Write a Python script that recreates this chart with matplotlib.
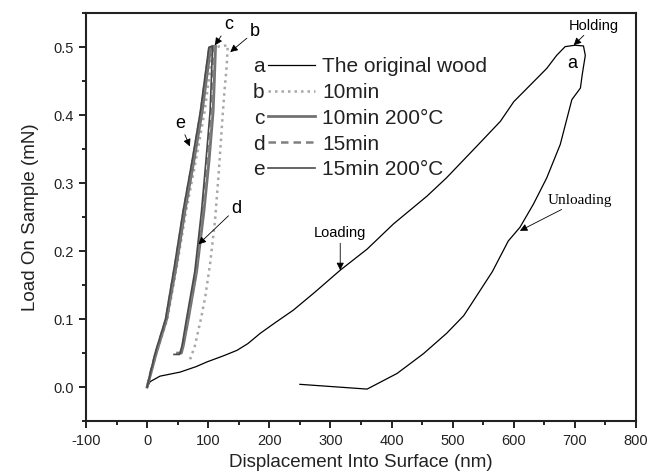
import matplotlib
matplotlib.use("Agg")
import matplotlib.pyplot as plt
from matplotlib.ticker import MultipleLocator, FormatStrFormatter

plt.rcParams['font.family'] = ['Liberation Sans', 'DejaVu Sans']
plt.rcParams['axes.unicode_minus'] = False

# curve a: the original wood (loading, holding, unloading)
a_x = [0, 5, 21, 54, 80, 98, 125, 147, 165, 185, 210, 239, 275, 316, 360, 403,
       458, 490, 540, 578, 600, 632, 654, 670, 684, 700, 714,
       717, 712, 709, 695, 676, 654, 632, 610, 591, 565, 534, 518, 490, 452,
       409, 360, 250]
a_y = [0, .008, .016, .022, .03, .037, .046, .054, .064, .079, .095, .113, .14,
       .172, .203, .24, .281, .308, .355, .391, .42, .449, .469, .488, .501,
       .503, .502,
       .488, .46, .44, .423, .357, .308, .269, .235, .215, .17, .127, .105,
       .079, .049, .02, -.003, .004]

# curve b: 10min
b_x = [0, 6, 15, 33, 49, 64, 79, 94, 108, 132,
       130, 127, 124, 117, 111, 103, 95, 88, 78, 70]
b_y = [0, .02, .05, .1, .18, .26, .33, .405, .5, .503,
       .47, .44, .405, .313, .244, .181, .132, .1, .06, .04]

# curve c: 10min 200C
c_x = [0, 6, 15, 32, 48, 62, 76, 90, 104, 112,
       110, 108, 101, 93, 81, 67, 59, 56, 50]
c_y = [0, .02, .05, .1, .18, .26, .33, .405, .5, .502,
       .45, .405, .33, .259, .17, .098, .06, .05, .05]

# curve d: 15min
d_x = [0, 5, 14, 31, 46, 60, 74, 88, 102, 110,
       108, 106, 99, 91, 80, 66, 58, 55, 48]
d_y = [0, .02, .05, .1, .18, .26, .33, .405, .5, .502,
       .45, .405, .33, .259, .17, .098, .06, .049, .049]

# curve e: 15min 200C
e_x = [0, 5, 13, 30, 45, 59, 73, 87, 101, 107,
       105, 103, 96, 89, 78, 64, 57, 53, 44]
e_y = [0, .02, .05, .1, .18, .26, .33, .405, .5, .502,
       .45, .405, .33, .259, .17, .098, .06, .048, .048]

letters = ['a', 'b', 'c', 'd', 'e']
names = ['The original wood', '10min', '10min 200°C', '15min', '15min 200°C']

fig = plt.figure(figsize=(6.51, 4.76), dpi=100)
ax = fig.add_axes([0.1321, 0.1155, 0.8449, 0.8565])

la, = ax.plot(a_x, a_y, color='black', lw=0.9)
lb, = ax.plot(b_x, b_y, color='#a8a8a8', lw=1.8, ls=(0, (1, 1.6)))
lc, = ax.plot(c_x, c_y, color='#727272', lw=2.0)
ld, = ax.plot(d_x, d_y, color='#808080', lw=1.8, ls=(0, (3, 2)))
le, = ax.plot(e_x, e_y, color='#4a4a4a', lw=1.2)

ax.set_xlim(-100, 800)
ax.set_ylim(-0.05, 0.55)
ax.xaxis.set_major_locator(MultipleLocator(100))
ax.xaxis.set_minor_locator(MultipleLocator(50))
ax.yaxis.set_major_locator(MultipleLocator(0.1))
ax.yaxis.set_minor_locator(MultipleLocator(0.05))
ax.yaxis.set_major_formatter(FormatStrFormatter('%.1f'))
ax.set_yticks([0, 0.1, 0.2, 0.3, 0.4, 0.5])
ax.tick_params(which='major', direction='out', length=5, width=1.4,
               labelsize=10.5, pad=4, colors='#222222')
ax.tick_params(which='minor', direction='out', length=3, width=1.4,
               colors='#222222')
for s in ax.spines.values():
    s.set_linewidth(1.5)
    s.set_color('#222222')

ax.set_xlabel('Displacement Into Surface (nm)', fontsize=13.5, labelpad=5,
              color='#222222')
ax.set_ylabel('Load On Sample (mN)', fontsize=13.5, labelpad=10,
              color='#222222')

leg = ax.legend([la, lb, lc, ld, le], names, loc='upper left',
                bbox_to_anchor=(0.33, 0.893), frameon=False, fontsize=15,
                handlelength=2.3, handletextpad=0.33, labelspacing=0.33,
                borderaxespad=0, borderpad=0)
for t in leg.get_texts():
    t.set_color('#222222')

fig.canvas.draw()
for t, h, s in zip(leg.get_texts(), leg.legend_handles, letters):
    bb_t = t.get_window_extent()
    bb_h = h.get_window_extent()
    px, py = fig.transFigure.inverted().transform((bb_h.x0 - 3, (bb_t.y0 + bb_t.y1) / 2))
    fig.text(px, py, s, fontsize=15, ha='right', va='center', color='#222222')

arrow = dict(arrowstyle='-|>', color='black', lw=0.6, mutation_scale=11,
             shrinkA=0, shrinkB=0)
ax.annotate('c', xy=(111, 0.503), xytext=(133, 0.533), fontsize=13,
            ha='center', va='center', arrowprops=arrow)
ax.annotate('b', xy=(136, 0.493), xytext=(176, 0.523), fontsize=13,
            ha='center', va='center', arrowprops=arrow)
ax.annotate('e', xy=(70, 0.354), xytext=(54, 0.388), fontsize=13,
            ha='center', va='center', arrowprops=arrow)
ax.annotate('d', xy=(84, 0.21), xytext=(146, 0.263), fontsize=13,
            ha='center', va='center', arrowprops=arrow)
ax.annotate('Loading', xy=(316, 0.172), xytext=(316, 0.226), fontsize=10.5,
            ha='center', va='center', arrowprops=arrow)
ax.annotate('Holding', xy=(698, 0.503), xytext=(731, 0.532), fontsize=10.5,
            ha='center', va='center', arrowprops=arrow)
ax.annotate('Unloading', xy=(610, 0.23), xytext=(708, 0.275), fontsize=11,
            family='Liberation Serif', ha='center', va='center',
            arrowprops=arrow)
ax.text(695, 0.476, 'a', fontsize=13, ha='center', va='center')

fig.savefig('out.png', dpi=100)
